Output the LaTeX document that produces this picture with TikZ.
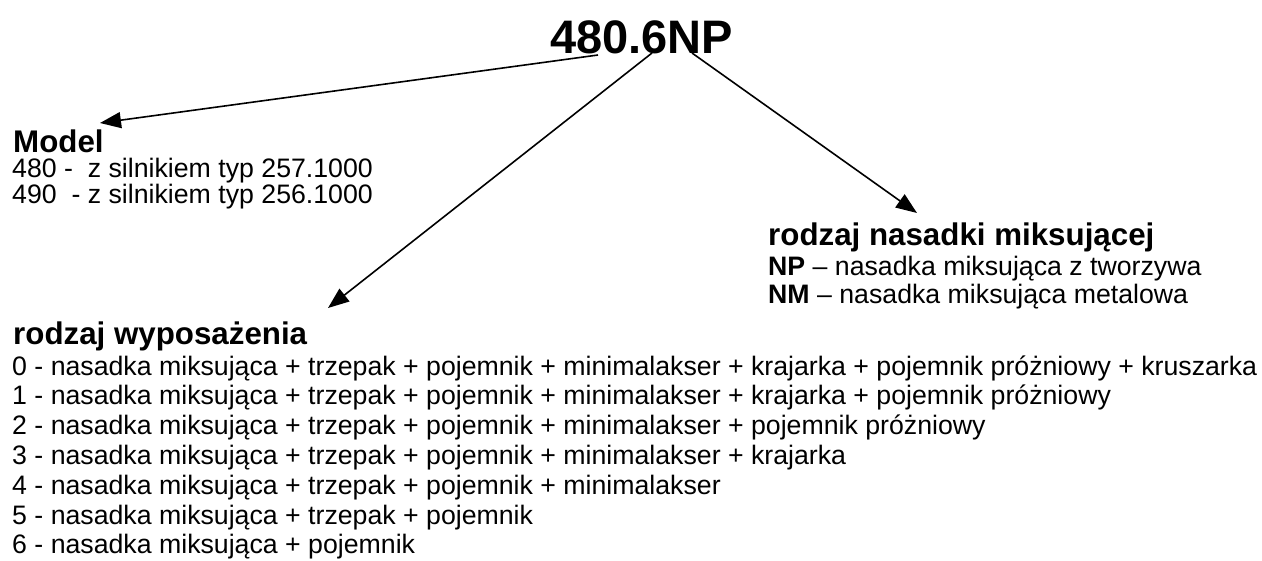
\documentclass[tikz,border=0pt]{standalone}
\usepackage{fontspec}
\setmainfont{Liberation Sans}
\usetikzlibrary{arrows.meta}
\tikzset{
  txt/.style={anchor=base west, inner sep=0pt, font=\fontsize{26.7}{30}\selectfont},
  head/.style={anchor=base west, inner sep=0pt, font=\fontsize{31.3}{36}\selectfont\bfseries},
  ttl/.style={anchor=base west, inner sep=0pt, font=\fontsize{47}{52}\selectfont\bfseries},
  conn/.style={line width=1.6pt, -{Triangle[length=21pt,width=16pt]}}
}
\begin{document}
\begin{tikzpicture}[x=1pt,y=-1pt]
\useasboundingbox (0,0) rectangle (1262,560);
% title
\node[ttl] (title) at (550,53) {480.6NP};
% model block
\node[head] (model) at (13,152) {Model};
\node[txt] (m1) at (12,177) {480 -\ \ z silnikiem typ 257.1000};
\node[txt] (m2) at (12,203) {490\ \ - z silnikiem typ 256.1000};
% nasadka block
\node[head] (nas) at (768,245) {rodzaj nasadki miksującej};
\node[txt] (n1) at (768,275) {\textbf{NP} – nasadka miksująca z tworzywa};
\node[txt] (n2) at (768,303) {\textbf{NM} – nasadka miksująca metalowa};
% wyposazenie block
\node[head] (wyp) at (13,344) {rodzaj wyposażenia};
\node[txt] (w0) at (12,375) {0 - nasadka miksująca + trzepak + pojemnik + minimalakser + krajarka + pojemnik próżniowy + kruszarka};
\node[txt] (w1) at (12,404.8) {1 - nasadka miksująca + trzepak + pojemnik + minimalakser + krajarka + pojemnik próżniowy};
\node[txt] (w2) at (12,434.6) {2 - nasadka miksująca + trzepak + pojemnik + minimalakser + pojemnik próżniowy};
\node[txt] (w3) at (12,464.4) {3 - nasadka miksująca + trzepak + pojemnik + minimalakser + krajarka};
\node[txt] (w4) at (12,494.2) {4 - nasadka miksująca + trzepak + pojemnik + minimalakser};
\node[txt] (w5) at (12,524) {5 - nasadka miksująca + trzepak + pojemnik};
\node[txt] (w6) at (12,553.8) {6 - nasadka miksująca + pojemnik};
% connector ends
\coordinate (sA) at (598,55);
\coordinate (sB) at (652,53);
\coordinate (sC) at (692,53);
\coordinate (eA) at (100,123);
\coordinate (eB) at (328,308);
\coordinate (eC) at (917,213);
\draw[conn] (sA) -- (eA);
\draw[conn] (sB) -- (eB);
\draw[conn] (sC) -- (eC);
\end{tikzpicture}
\end{document}
